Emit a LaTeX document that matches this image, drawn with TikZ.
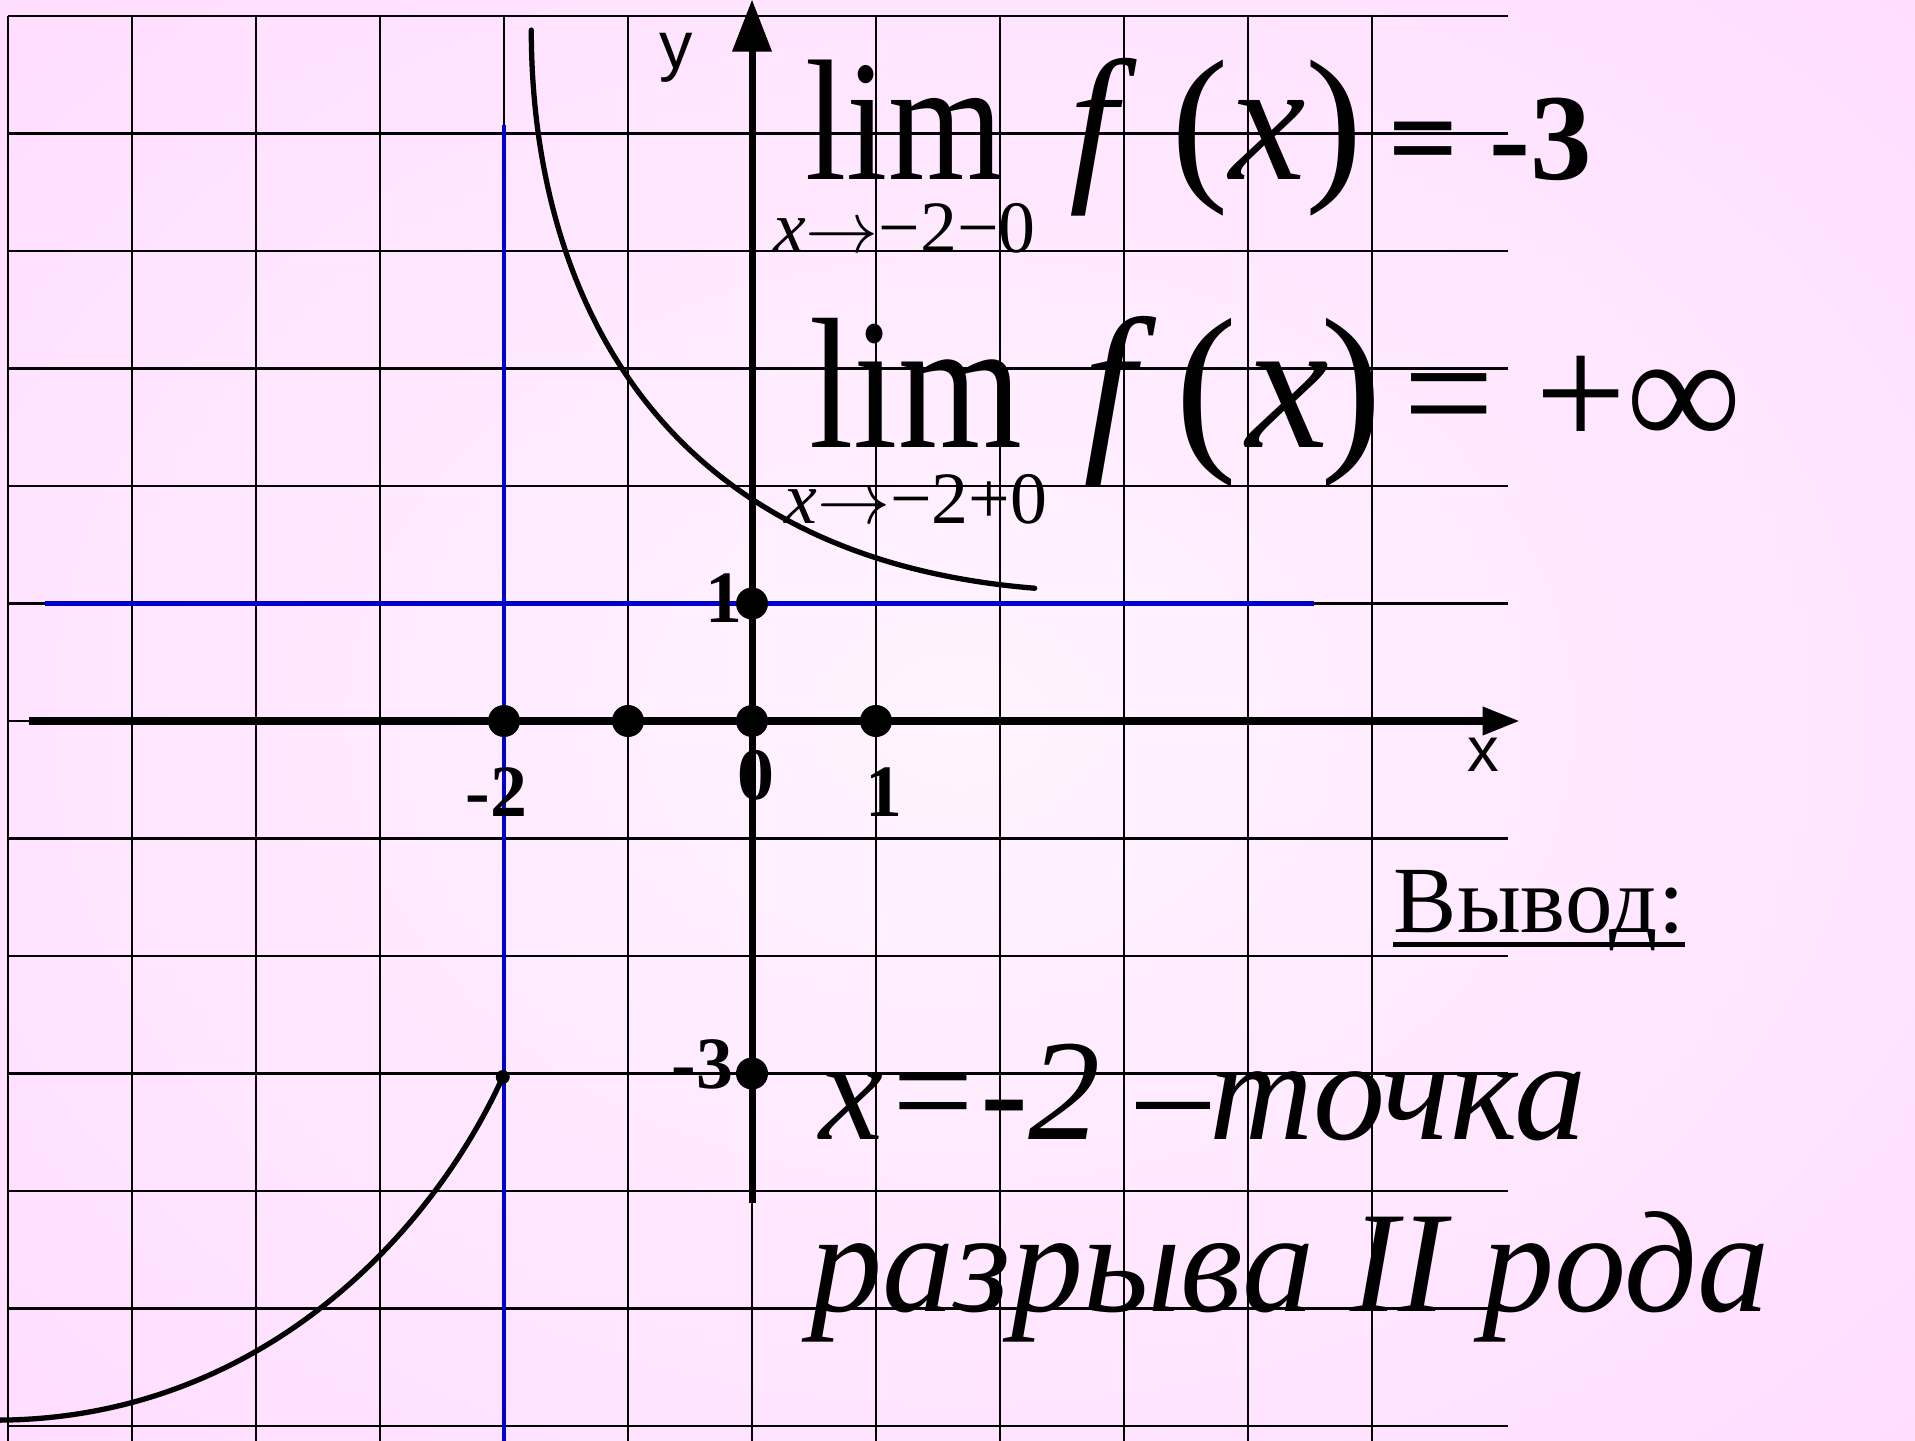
\documentclass[tikz,border=0pt]{standalone}
\usepackage{fontspec}
\setmainfont{Liberation Serif}
\newfontfamily\axisfont{Liberation Sans}
\usepackage{graphicx}
\usetikzlibrary{arrows.meta,positioning}
\definecolor{LineBlue}{HTML}{0000CC}
\definecolor{SoftPink}{HTML}{FFC6FF}
\definecolor{PaleRose}{HTML}{FFF4FF}
\newcommand{\fsz}[1]{\fontsize{#1}{#1}\selectfont}

\begin{document}
\begin{tikzpicture}[
  gridline/.style={line width=0.6pt},
  axis/.style={line width=2pt},
  branch/.style={line width=1.5pt,line cap=round},
  asym/.style={LineBlue,line width=1.4pt},
  dot/.style={circle,fill=black,inner sep=0pt,minimum size=3.2mm},
  numlbl/.style={inner sep=0pt,anchor=base,font=\bfseries\fsz{21pt}},
  axlbl/.style={inner sep=0pt,anchor=base,font=\axisfont\fsz{19pt}},
  txt/.style={inner sep=0pt,anchor=base west}]
\useasboundingbox (0,0) rectangle (19.15,14.40);
\shade[inner color=PaleRose,outer color=SoftPink] (-17.4,-13.2) rectangle (36.6,27.6);

\begin{scope}[shift={(7.52,7.19)},x=1.24cm,y=1.175cm]
% grid
\foreach \gx in {-6,...,5} \draw[gridline] (\gx,-6.2) -- (\gx,6);
\foreach \gy in {-6,...,6} \draw[gridline] (-6,\gy) -- (6.1,\gy);
% asymptotes
\draw[asym] (-2,5.07) -- (-2,-6.2);
\draw[asym] (-5.7,1) -- (4.53,1);
% axes
\draw[axis,-{Triangle[length=3.7mm,width=2.7mm]}] (-5.83,0) -- (6.19,0);
\draw[axis,-{Triangle[length=5.2mm,width=3.8mm]}] (0,-4.1) -- (0,6.14);
\node[axlbl] (ylab) at (-0.61,5.55) {y};
\node[axlbl,font=\axisfont\fsz{18pt}] (xlab) at (5.90,-0.43) {x};
% branches
\draw[branch] (-1.78,5.88) .. controls (-1.78,3.83) and (-0.90,1.40) .. (2.28,1.13);
\draw[branch] (-2.01,-3.03) .. controls (-2.6,-4.4) and (-4.0,-5.95) .. (-6.1,-5.95);
\fill (-2.01,-3.03) circle (0.7mm);
% marks
\node[numlbl] (lm2) at (-2.06,-0.81) {-2};
\node[numlbl] (l0) at (0.03,-0.67) {0};
\node[numlbl] (lp1) at (1.06,-0.81) {1};
\node[numlbl] (ly1) at (-0.23,0.84) {1};
\node[numlbl] (lym3) at (-0.40,-3.13) {-3};
\node[dot] (dm2) at (-2,0) {};
\node[dot] (dm1) at (-1,0) {};
\node[dot] (d0) at (0,0) {};
\node[dot] (dp1) at (1,0) {};
\node[dot] (dy1) at (0,1) {};
\node[dot] (dym3) at (0,-3) {};
\end{scope}

% limits
\node[txt,font=\fsz{49pt}] (lim1) at (8.05,12.60) {\scalebox{.86}[1]{lim}};
\node[inner sep=0pt,font=\fsz{21pt},below=2.2mm of lim1] (sub1) {\textit{x}$\rightarrow$−2−0};
\node[txt,font=\fsz{49pt},base right=6.5mm of lim1] (fx1) {\textit{f}\hspace{.2em}(\textit{x})};
\node[txt,font=\bfseries\fsz{35pt},base right=2.4mm of fx1] (val1) {= -3};

\node[txt,font=\fsz{53pt}] (lim2) at (8.09,9.92) {\scalebox{.855}[1]{lim}};
\node[inner sep=0pt,font=\fsz{21pt},below=2.5mm of lim2] (sub2) {\textit{x}$\rightarrow$−2+0};
\node[txt,font=\fsz{53pt},base right=6mm of lim2] (fx2) {\textit{f}\hspace{.1em}(\hspace{.05em}\textit{x}\hspace{-.05em})};
\node[txt,font=\fsz{46pt},base right=2mm of fx2] (val2) {= +∞};

% conclusion
\node[txt,font=\fsz{27pt}] (vyv) at (13.93,5.08) {Вывод:};
\draw[line width=1.2pt] ([yshift=-1.25mm]vyv.base west) -- ([yshift=-1.25mm]vyv.base east);
\node[txt,font=\itshape\fsz{41pt}] (concl1) at (8.19,3.01) {x=-2 –точка};
\node[txt,font=\itshape\fsz{41pt}] (concl2) at (8.10,1.29) {разрыва II рода};
\end{tikzpicture}
\end{document}
